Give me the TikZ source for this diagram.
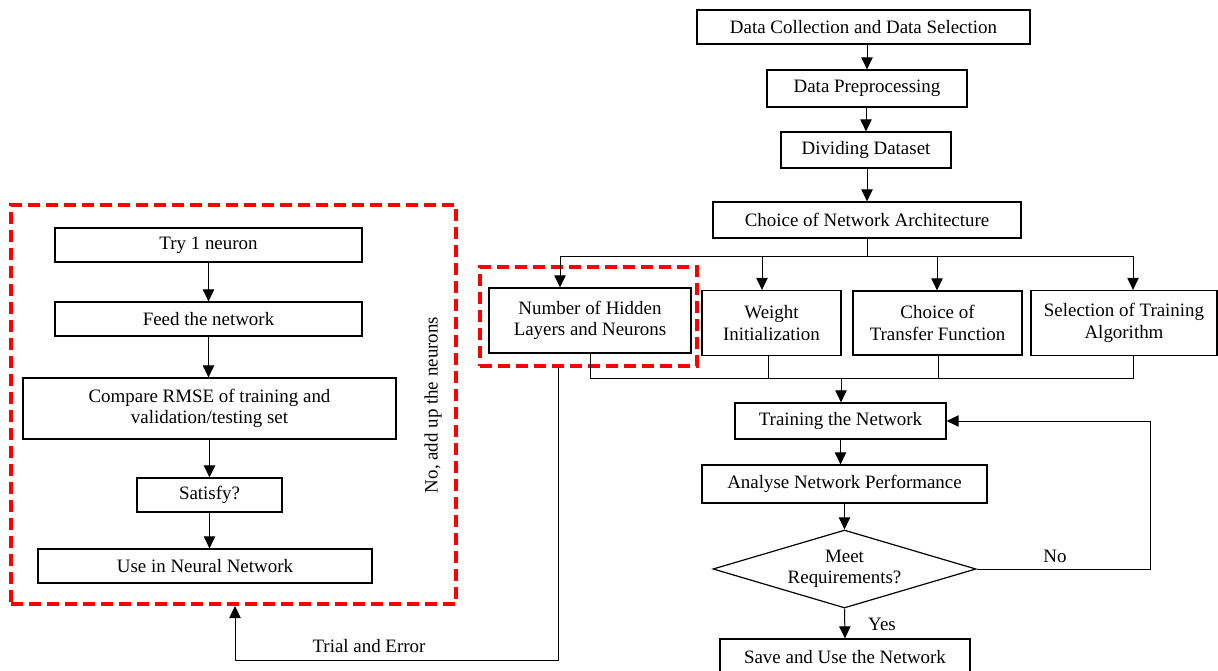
\documentclass[tikz,border=0pt]{standalone}
\usepackage{fontspec}
\setmainfont{Liberation Serif}
\usetikzlibrary{arrows.meta,shapes.geometric}
\begin{document}
\begin{tikzpicture}[x=0.75pt,y=-0.75pt,
  every node/.style={font=\fontsize{14.2}{16.2}\selectfont},
  box/.style 2 args={draw, line width=0.9pt, inner sep=0pt, align=center,
    minimum width=#1*0.75pt, minimum height=#2*0.75pt},
  conn/.style={line width=0.75pt},
  arr/.style={conn, -{Triangle[length=9pt,width=8.5pt]}},
  reddash/.style={draw=red, line width=3pt, dash pattern=on 9pt off 4.5pt, inner sep=0pt}
]
\useasboundingbox (0,0) rectangle (1218,671);
\clip (0,0) rectangle (1218,671);

% right column
\node[box={333}{34}] (dc) at (863.5,27) {Data Collection and Data Selection};
\node[box={200}{37}] (dp) at (867,88.5) {Data Preprocessing};
\node[box={170}{36}] (dd) at (866,150) {Dividing Dataset};
\node[box={308}{36}] (cna) at (867,220) {Choice of Network Architecture};

\node[box={202}{65}] (nh) at (590,320.5) {Number of Hidden\\Layers and Neurons};
\node[box={139}{65}] (wi) at (771.5,323) {Weight\\Initialization};
\node[box={169}{64}] (ctf) at (937.5,323) {Choice of\\Transfer Function};
\node[box={186}{65}] (sta) at (1124,323) {Selection of Training\\Algorithm};

\node[reddash, minimum width=217*0.75pt, minimum height=99*0.75pt] (redS) at (588.5,316.5) {};

\node[box={211}{36}] (tn) at (840.5,421) {Training the Network};
\node[box={285}{38}] (anp) at (844.5,484) {Analyse Network Performance};
\node[draw, diamond, line width=0.9pt, inner sep=0pt, aspect=3.37, align=center,
  minimum width=263*0.75pt, minimum height=78*0.75pt] (mr) at (844.5,569) {Meet\\Requirements?};
\node[box={250}{36}] (save) at (845,657) {Save and Use the Network};

% left panel
\node[reddash, minimum width=445*0.75pt, minimum height=399*0.75pt] (redL) at (233.5,404.5) {};
\node[box={307}{34}] (t1) at (208.5,245) {Try 1 neuron};
\node[box={307}{34}] (feed) at (208.5,319) {Feed the network};
\node[box={373}{61}] (cmp) at (209.5,408.5) {Compare RMSE of training and\\validation/testing set};
\node[box={145}{34}] (sat) at (209.5,495) {Satisfy?};
\node[box={334}{34}] (use) at (205,566) {Use in Neural Network};
\node[rotate=90] (lab) at (433,405) {No, add up the neurons};

% connectors right
\draw[arr] (dp.north |- dc.south) -- (dp.north);
\draw[arr] (dd.north |- dp.south) -- (dd.north);
\draw[arr] (cna.north |- dd.south) -- (cna.north);
\coordinate (bT) at (867,256);
\coordinate (tL) at (560,256);
\coordinate (t2) at (762,256);
\coordinate (t3) at (937,256);
\coordinate (tR) at (1133,256);
\draw[conn] (cna.south) -- (bT);
\draw[conn] (tL) -- (tR);
\draw[arr] (tL) -- (tL |- nh.north);
\draw[arr] (t2) -- (t2 |- wi.north);
\draw[arr] (t3) -- (t3 |- ctf.north);
\draw[arr] (tR) -- (tR |- sta.north);

\coordinate (bL) at (590,378);
\coordinate (b2) at (768,378);
\coordinate (b3) at (938,378);
\coordinate (bM) at (841,378);
\coordinate (bR) at (1133,378);
\draw[conn] (nh.south) -- (bL) -- (bR) -- (bR |- sta.south);
\draw[conn] (b2) -- (b2 |- wi.south);
\draw[conn] (b3) -- (b3 |- ctf.south);
\draw[arr] (bM) -- (bM |- tn.north);
\draw[arr] (tn.south) -- (tn.south |- anp.north);
\draw[arr] (anp.south) -- (mr.north);
\coordinate (nR) at (1150,569);
\draw[arr] (mr.east) -- (nR) -- (nR |- tn.east) -- (tn.east);
\node (no) at (1055,556) {No};
\draw[arr] (mr.south) -- (save.north);
\node (yes) at (882,624) {Yes};

% connectors left
\draw[arr] (t1.south) -- (feed.north);
\draw[arr] (feed.south) -- (feed.south |- cmp.north);
\draw[arr] (cmp.south) -- (sat.north);
\draw[arr] (sat.south) -- (sat.south |- use.north);

\coordinate (q1) at (558,660);
\coordinate (q2) at (235,660);
\draw[arr] (q1 |- redS.south) -- (q1) -- (q2) -- (q2 |- redL.south);
\node (te) at (369,646) {Trial and Error};
\end{tikzpicture}
\end{document}
